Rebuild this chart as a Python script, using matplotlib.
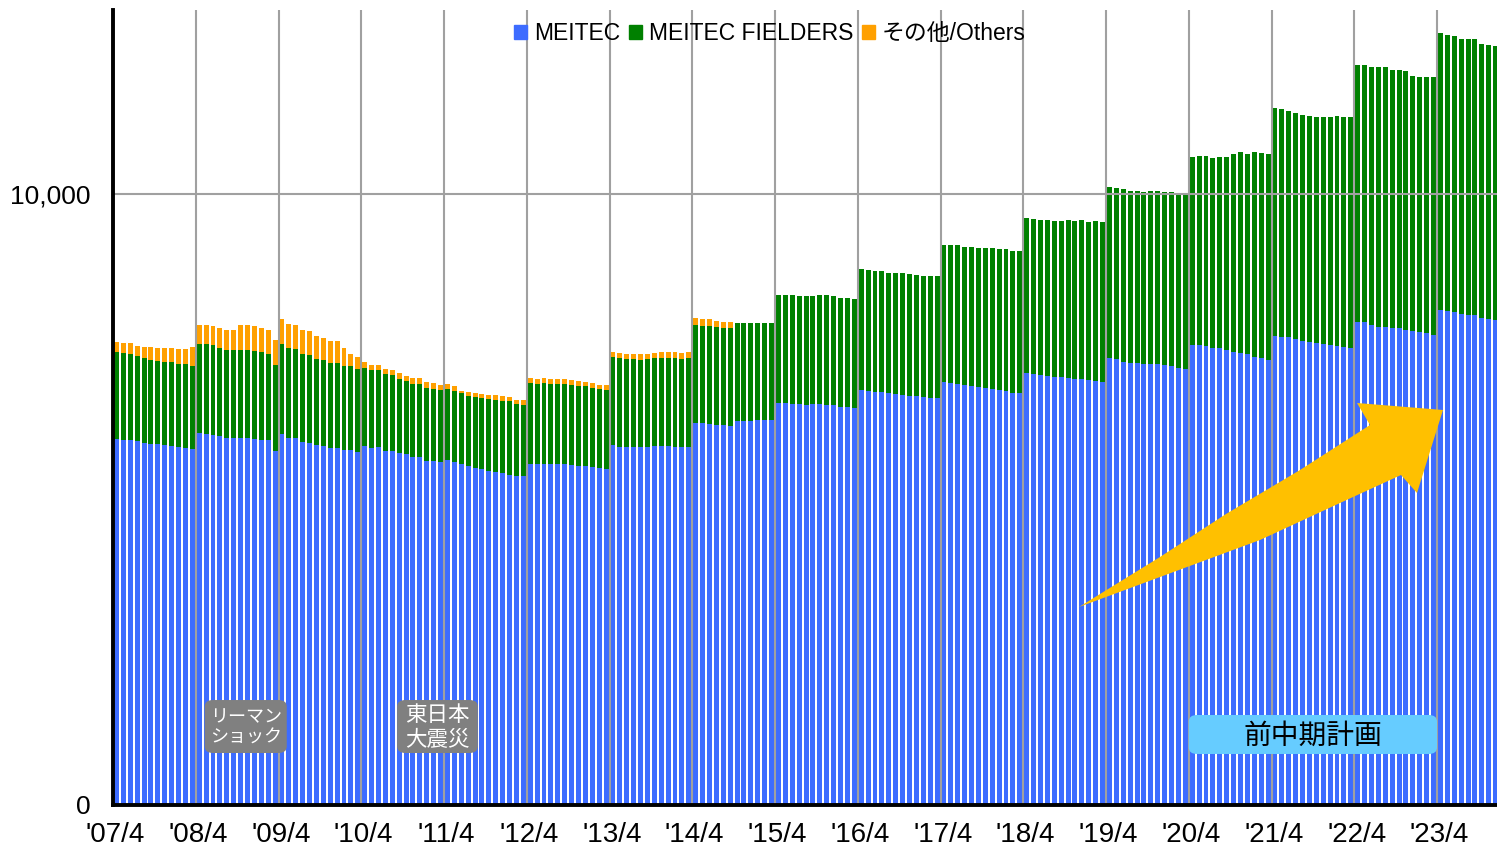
import matplotlib
matplotlib.use("Agg")
import matplotlib.pyplot as plt
from matplotlib.patches import Patch, FancyBboxPatch, Polygon
import numpy as np

plt.rcParams['font.family'] = ['Liberation Sans', 'Noto Sans CJK JP']

# Monthly headcount, April 2007 - December 2023 (one row per fiscal year)
meitec = [
    5985, 5974, 5974, 5958, 5919, 5908, 5908, 5887, 5876, 5859, 5848, 5827,
    6088, 6077, 6061, 6039, 6012, 6012, 6012, 6012, 5990, 5979, 5974, 5794,
    6077, 6012, 6012, 5941, 5925, 5892, 5876, 5848, 5848, 5816, 5816, 5778,
    5881, 5848, 5859, 5794, 5788, 5761, 5745, 5690, 5690, 5625, 5625, 5608,
    5641, 5608, 5576, 5543, 5521, 5505, 5472, 5456, 5439, 5407, 5390, 5390,
    5587, 5587, 5587, 5587, 5587, 5587, 5570, 5554, 5554, 5537, 5521, 5505,
    5892, 5865, 5854, 5854, 5854, 5865, 5875, 5875, 5875, 5865, 5854, 5854,
    6246, 6246, 6241, 6225, 6214, 6208, 6290, 6279, 6290, 6295, 6295, 6295,
    6574, 6574, 6563, 6563, 6546, 6563, 6563, 6546, 6541, 6514, 6514, 6497,
    6792, 6776, 6765, 6760, 6738, 6727, 6710, 6694, 6694, 6678, 6661, 6661,
    6929, 6912, 6896, 6874, 6858, 6847, 6830, 6809, 6792, 6776, 6749, 6749,
    7076, 7054, 7038, 7022, 7011, 7005, 6994, 6978, 6967, 6951, 6940, 6918,
    7311, 7294, 7256, 7240, 7229, 7212, 7223, 7212, 7196, 7191, 7158, 7141,
    7529, 7529, 7513, 7480, 7480, 7448, 7415, 7398, 7382, 7328, 7311, 7279,
    7682, 7666, 7666, 7622, 7595, 7573, 7557, 7540, 7524, 7508, 7497, 7486,
    7900, 7900, 7857, 7829, 7829, 7813, 7802, 7775, 7758, 7737, 7720, 7693,
    8102, 8086, 8070, 8031, 8020, 8020, 7966, 7955, 7939,
]

fielders = [
    1429, 1424, 1402, 1385, 1397, 1370, 1353, 1369, 1369, 1353, 1364, 1352,
    1457, 1468, 1468, 1441, 1435, 1435, 1435, 1435, 1440, 1430, 1407, 1402,
    1473, 1468, 1451, 1440, 1440, 1407, 1407, 1386, 1386, 1369, 1369, 1358,
    1277, 1266, 1255, 1254, 1244, 1206, 1200, 1206, 1206, 1205, 1189, 1190,
    1167, 1168, 1167, 1151, 1156, 1156, 1173, 1172, 1173, 1200, 1173, 1151,
    1325, 1309, 1325, 1309, 1309, 1309, 1309, 1309, 1309, 1293, 1293, 1293,
    1434, 1445, 1440, 1440, 1423, 1429, 1435, 1435, 1435, 1445, 1440, 1456,
    1610, 1593, 1598, 1598, 1593, 1599, 1604, 1615, 1604, 1599, 1599, 1599,
    1767, 1767, 1778, 1762, 1779, 1762, 1778, 1795, 1784, 1778, 1778, 1779,
    1986, 1986, 1980, 1985, 1974, 1985, 2002, 1997, 1980, 1985, 2002, 2002,
    2231, 2248, 2264, 2253, 2269, 2264, 2281, 2302, 2302, 2318, 2318, 2318,
    2537, 2542, 2542, 2558, 2552, 2558, 2586, 2585, 2613, 2596, 2623, 2629,
    2809, 2804, 2820, 2804, 2815, 2815, 2821, 2832, 2831, 2836, 2842, 2859,
    3083, 3099, 3115, 3115, 3132, 3164, 3245, 3295, 3278, 3365, 3366, 3381,
    3731, 3731, 3698, 3710, 3704, 3704, 3709, 3726, 3742, 3769, 3769, 3780,
    4217, 4217, 4222, 4250, 4250, 4217, 4228, 4238, 4174, 4173, 4190, 4217,
    4528, 4511, 4511, 4501, 4512, 4512, 4484, 4478, 4478,
]

# "Others" stops after September 2014
others = [
    158, 163, 185, 164, 174, 212, 213, 218, 229, 246, 246, 311,
    316, 316, 316, 332, 327, 327, 414, 414, 415, 403, 393, 414,
    410, 398, 398, 399, 398, 382, 366, 360, 360, 294, 196, 196,
    87, 87, 87, 82, 82, 98, 82, 87, 87, 88, 87, 81,
    88, 82, 38, 65, 66, 66, 60, 77, 76, 65, 65, 87,
    82, 82, 82, 82, 82, 82, 82, 82, 66, 82, 65, 81,
    82, 82, 82, 82, 99, 93, 82, 98, 98, 98, 98, 98,
    109, 109, 109, 104, 103, 103,
]
others = others + [0] * (len(meitec) - len(others))

year_labels = ["'07/4", "'08/4", "'09/4", "'10/4", "'11/4", "'12/4", "'13/4", "'14/4",
               "'15/4", "'16/4", "'17/4", "'18/4", "'19/4", "'20/4", "'21/4", "'22/4", "'23/4"]

legend_labels = ['MEITEC', 'MEITEC FIELDERS', 'その他/Others']
c_blue = '#3d6cff'
c_green = '#008000'
c_orange = '#ffa000'

W, H = 1497, 848
fig = plt.figure(figsize=(W / 100, H / 100), dpi=100)
ax = fig.add_axes([113 / W, 43 / H, 1384 / W, 795 / H])

x = np.arange(len(meitec))
m = np.array(meitec)
f = np.array(fielders)
o = np.array(others)

bw = 0.72
ax.bar(x, m, bw, color=c_blue, zorder=2)
ax.bar(x, f, bw, bottom=m, color=c_green, zorder=2)
ax.bar(x, o, bw, bottom=m + f, color=c_orange, zorder=2)

ax.set_xlim(-0.5, 200.2)
ax.set_ylim(0, 13011)

# year boundary grid lines and 10,000 line, drawn above bars
for k in range(1, len(year_labels)):
    ax.axvline(12 * k - 0.5, color='#a0a0a0', lw=1.5, zorder=3)
ax.axhline(10000, color='#a0a0a0', lw=1.5, zorder=3)

ax.set_xticks([12 * k - 0.15 for k in range(len(year_labels))])
ax.set_xticklabels(year_labels, fontsize=20)
ax.set_yticks([0, 10000])
ax.set_yticklabels(['0', '10,000'], fontsize=19)
ax.tick_params(axis='x', length=0, pad=12)
ax.tick_params(axis='y', length=0, pad=16)

for s in ['top', 'right']:
    ax.spines[s].set_visible(False)
for s in ['left', 'bottom']:
    ax.spines[s].set_linewidth(2.8)
    ax.spines[s].set_color('black')
    ax.spines[s].set_zorder(6)

handles = [Patch(color=c) for c in (c_blue, c_green, c_orange)]
ax.legend(handles, legend_labels, loc='center', ncol=3, frameon=False,
          bbox_to_anchor=(770 / W, 1 - 34 / H), bbox_transform=fig.transFigure,
          fontsize=16.5, handlelength=0.55, handleheight=0.55, handletextpad=0.3,
          columnspacing=0.4)

# event boxes
def event_box(x0, x1, y0, y1, text, fc, tc, size):
    box = FancyBboxPatch((x0, y0), x1 - x0, y1 - y0,
                         boxstyle='round,pad=0,rounding_size=1.2',
                         mutation_aspect=90, fc=fc, ec='none', zorder=5)
    ax.add_patch(box)
    ax.text((x0 + x1) / 2, (y0 + y1) / 2 - 20, text, ha='center', va='center',
            color=tc, fontsize=size, linespacing=1.15, zorder=6,
            family=['Noto Sans CJK JP', 'DejaVu Sans'])

event_box(12.8, 24.7, 851, 1718, 'リーマン\nショック', '#808080', 'white', 13)
event_box(40.7, 52.4, 851, 1718, '東日本\n大震災', '#808080', 'white', 15.5)
event_box(155.5, 191.5, 835, 1473, '前中期計画', '#66ccff', 'black', 20)

# growth arrow (pixel outline of the reference, top-left origin)
arrow_px = [(1079, 607), (1160, 557), (1226, 514), (1300, 470), (1370, 425),
            (1357, 403), (1443, 410), (1417, 493), (1401, 475),
            (1340, 503), (1260, 540), (1160, 577)]
arrow_fig = [(px / W, 1 - py / H) for px, py in arrow_px]
fig.patches.append(Polygon(arrow_fig, closed=True, fc='#ffc000', ec='none',
                           transform=fig.transFigure, zorder=7))

fig.savefig('out.png', dpi=100)
